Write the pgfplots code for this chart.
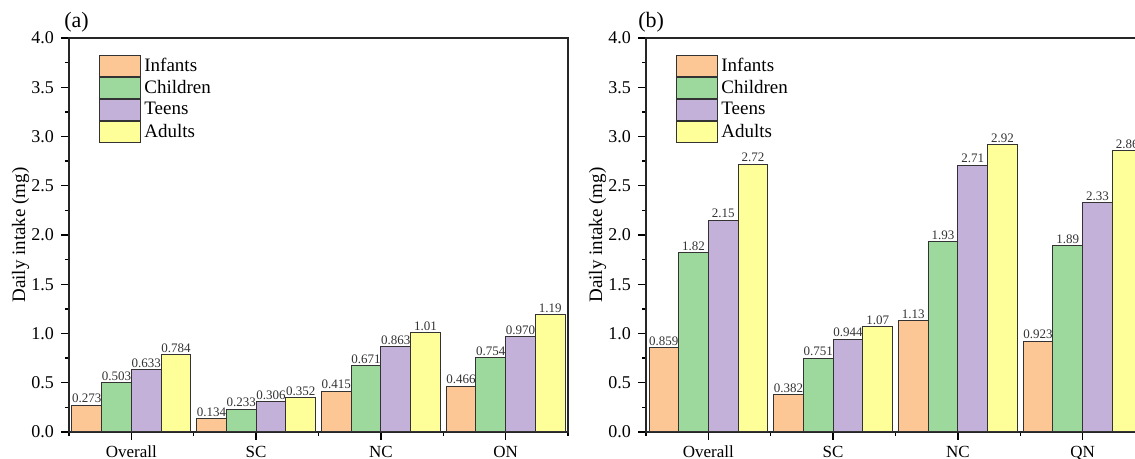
\documentclass[border=0pt]{standalone}
\usepackage{fontspec}
\setmainfont{Liberation Serif}
\usepackage{pgfplots}
\pgfplotsset{compat=1.18}

\definecolor{cInf}{HTML}{FCC794}
\definecolor{cChi}{HTML}{9DD89C}
\definecolor{cTee}{HTML}{C3B1D9}
\definecolor{cAdu}{HTML}{FFFF99}
\definecolor{edge}{HTML}{333333}

\pgfplotsset{
  panel/.style={
    scale only axis, width=249.5pt, height=197pt,
    ybar=0pt, bar width=0.238,
    xmin=-0.5, xmax=3.5, ymin=0, ymax=4,
    enlarge x limits=false, clip=false,
    xtick={0,1,2,3},
    minor xtick={-0.5,0.5,1.5,2.5,3.5},
    ytick distance=0.5, minor y tick num=1,
    tick pos=left, tick align=outside,
    major tick length=4pt, minor tick length=2pt,
    every tick/.style={black, line width=0.7pt},
    axis line style={line width=0.8pt, black!85},
    /pgf/number format/assume math mode=true,
    yticklabel style={font=\fontsize{9}{10}\selectfont,
      /pgf/number format/.cd, fixed, fixed zerofill, precision=1},
    xticklabel style={font=\fontsize{8.5}{10}\selectfont, yshift=0.5pt},
    ylabel={Daily intake (mg)},
    every axis y label/.style={at={(axis description cs:-0.097,0.5)},
      rotate=90, anchor=center, font=\fontsize{9.5}{11}\selectfont},
    point meta=explicit symbolic,
    nodes near coords,
    nodes near coords style={font=\fontsize{6.5}{7}\selectfont,
      text=black!80, inner sep=0.8pt, anchor=south},
    legend cell align=left,
    legend style={at={(axis description cs:0,1)}, anchor=north west,
      xshift=15pt, yshift=-8.3pt, draw=none, fill=none, inner sep=0pt,
      row sep=0pt, font=\fontsize{9.5}{11}\selectfont,
      nodes={inner ysep=0.5pt, inner xsep=1.5pt}},
    legend image code/.code={
      \draw[##1, line width=0.5pt] (0pt,-5.25pt) rectangle (20.5pt,5.25pt);},
  },
  ser/.style={fill=#1, draw=edge, line width=0.5pt},
}

\begin{document}
\begin{tikzpicture}
% (a)
\begin{axis}[panel, at={(34.5pt,13.5pt)}, anchor=south west,
  xticklabels={Overall,SC,NC,ON}]
\addplot[ser=cInf] coordinates {(0,0.273) [0.273] (1,0.134) [0.134] (2,0.415) [0.415] (3,0.466) [0.466]};
\addplot[ser=cChi] coordinates {(0,0.503) [0.503] (1,0.233) [0.233] (2,0.671) [0.671] (3,0.754) [0.754]};
\addplot[ser=cTee] coordinates {(0,0.633) [0.633] (1,0.306) [0.306] (2,0.863) [0.863] (3,0.970) [0.970]};
\addplot[ser=cAdu] coordinates {(0,0.784) [0.784] (1,0.352) [0.352] (2,1.01) [1.01] (3,1.19) [1.19]};
\legend{Infants,Children,Teens,Adults}
\node[anchor=west, inner sep=0pt, font=\fontsize{11}{12}\selectfont,
  xshift=-2.5pt, yshift=7.75pt] at (rel axis cs:0,1) {(a)};
\end{axis}
% (b)
\begin{axis}[panel, at={(323pt,13.5pt)}, anchor=south west,
  xticklabels={Overall,SC,NC,QN}]
\addplot[ser=cInf] coordinates {(0,0.859) [0.859] (1,0.382) [0.382] (2,1.13) [1.13] (3,0.923) [0.923]};
\addplot[ser=cChi] coordinates {(0,1.82) [1.82] (1,0.751) [0.751] (2,1.93) [1.93] (3,1.89) [1.89]};
\addplot[ser=cTee] coordinates {(0,2.15) [2.15] (1,0.944) [0.944] (2,2.71) [2.71] (3,2.33) [2.33]};
\addplot[ser=cAdu] coordinates {(0,2.72) [2.72] (1,1.07) [1.07] (2,2.92) [2.92] (3,2.86) [2.86]};
\legend{Infants,Children,Teens,Adults}
\node[anchor=west, inner sep=0pt, font=\fontsize{11}{12}\selectfont,
  xshift=-4pt, yshift=7.75pt] at (rel axis cs:0,1) {(b)};
\end{axis}
\pgfresetboundingbox
\path[use as bounding box] (0,0) rectangle (567.5pt,229.5pt);
\end{tikzpicture}
\end{document}
